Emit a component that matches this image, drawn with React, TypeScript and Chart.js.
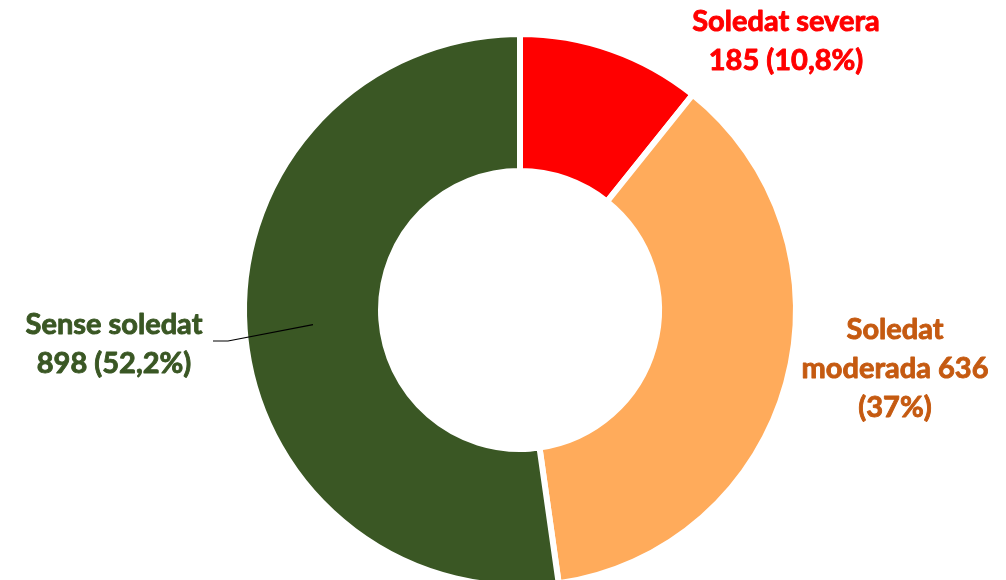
import React, { useEffect, useRef } from "react";
import { Chart, registerables } from "chart.js";

Chart.register(...registerables);

const categories = ["Soledat severa", "Soledat moderada", "Sense soledat"];
const values = [185, 636, 898];
const percents = ["10,8%", "37%", "52,2%"];
const sliceColors = ["#FF0000", "#FFAB5B", "#3A5724"];
const labelColors = ["#FF0000", "#C55A11", "#3A5724"];

const labelLines: string[][] = [
  [categories[0], `${values[0]} (${percents[0]})`],
  ["Soledat", `moderada ${values[1]}`, `(${percents[1]})`],
  [categories[2], `${values[2]} (${percents[2]})`],
];

const FONT = "bold 29px Lato, 'Open Sans', sans-serif";
const LINE_H = 39;

const labelPlugin = {
  id: "sliceLabels",
  afterDraw(chart: any) {
    const ctx = chart.ctx as CanvasRenderingContext2D;
    const meta = chart.getDatasetMeta(0);
    const anchors = [
      { x: 786, y: 31 },
      { x: 895, y: 339 },
      { x: 114, y: 334 },
    ];
    ctx.save();
    ctx.font = FONT;
    ctx.textAlign = "center";
    ctx.textBaseline = "alphabetic";
    ctx.lineWidth = 0.9;
    ctx.lineJoin = "round";
    labelLines.forEach((lines, i) => {
      ctx.fillStyle = labelColors[i];
      ctx.strokeStyle = labelColors[i];
      lines.forEach((ln, j) => {
        ctx.fillText(ln, anchors[i].x, anchors[i].y + j * LINE_H);
        ctx.strokeText(ln, anchors[i].x, anchors[i].y + j * LINE_H);
      });
    });
    const arc = meta.data[2];
    const p = arc.tooltipPosition(false);
    ctx.strokeStyle = "#000000";
    ctx.lineWidth = 1.2;
    ctx.beginPath();
    ctx.moveTo(213, 341);
    ctx.lineTo(228, 341);
    ctx.lineTo(p.x, p.y);
    ctx.stroke();
    ctx.restore();
  },
};

export default function App() {
  const ref = useRef<HTMLCanvasElement | null>(null);
  useEffect(() => {
    if (!ref.current) return;
    const chart = new Chart(ref.current, {
      type: "doughnut",
      data: {
        labels: categories,
        datasets: [
          {
            data: values,
            backgroundColor: sliceColors,
            borderColor: "#FFFFFF",
            borderWidth: 6,
            hoverOffset: 0,
          },
        ],
      },
      options: {
        responsive: false,
        animation: false,
        cutout: 139,
        layout: { padding: { left: 241, right: 207, top: 31, bottom: 31 } },
        plugins: {
          legend: { display: false },
          tooltip: { enabled: false },
          title: { display: false },
        },
      },
      plugins: [labelPlugin],
    });
    return () => chart.destroy();
  }, []);
  return (
    <div style={{ position: "absolute", left: 0, top: 0, width: 1006, height: 620, background: "#fff" }}>
      <canvas ref={ref} width={1006} height={620} style={{ display: "block" }} />
    </div>
  );
}
